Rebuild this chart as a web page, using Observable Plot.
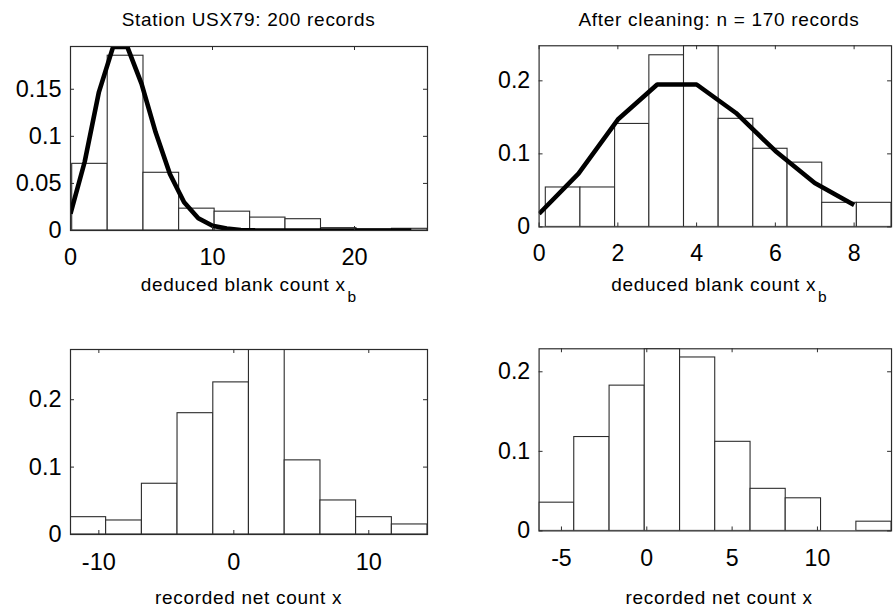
<!DOCTYPE html>
<html><head><meta charset="utf-8">
<script src="https://cdn.jsdelivr.net/npm/d3@7"></script>
<script src="https://cdn.jsdelivr.net/npm/@observablehq/plot@0.6"></script>
<style>
html,body{margin:0;padding:0;background:#fff;overflow:hidden;width:893px;height:608px;}
#root{position:relative;width:893px;height:608px;font-family:"Liberation Sans",Arial,sans-serif;color:#000;}
.cell{position:absolute;}
.lbl{position:absolute;text-align:center;font-size:19px;line-height:19px;letter-spacing:0.7px;white-space:nowrap;}
.lbl sub{font-size:15.5px;vertical-align:-11px;line-height:0;margin-left:2px;letter-spacing:0;}
</style></head><body><div id="root"></div>
<script>
// ---- Top-left: Station USX79, deduced blank count ----
const tlEdges = [0.12, 2.62, 5.14, 7.65, 10.15, 12.65, 15.14, 17.64, 20.14, 22.64, 25.14];
const tlDensity = [0.0708, 0.1856, 0.0613, 0.0232, 0.0200, 0.0137, 0.0120, 0.0025, 0.0010, 0.0018];
const tlCurveX = [0,1,2,3,4,5,6,7,8,9,10,11,12,13,14,15,16,17,18,19,20,21,22,23,24];
const tlCurveY = [0.018,0.073,0.147,0.195,0.195,0.156,0.104,0.060,0.030,0.013,0.005,0.002,0.0006,0.0002,0,0,0,0,0,0,0,0,0,0,0];
const tlXTicks = [0, 10, 20];
const tlYTicks = [0, 0.05, 0.1, 0.15];
const tlXDomain = [0, 25.14];
const tlYDomain = [0, 0.1954];

// ---- Top-right: after cleaning, deduced blank count ----
const trEdges = [0.17, 1.05, 1.93, 2.80, 3.68, 4.56, 5.44, 6.31, 7.19, 8.07, 8.95];
const trDensity = [0.054, 0.054, 0.141, 0.235, 0.248, 0.148, 0.107, 0.088, 0.033, 0.033];
const trCurveX = [0,1,2,3,4,5,6,7,8];
const trCurveY = [0.018,0.073,0.147,0.195,0.195,0.156,0.104,0.060,0.030];
const trXTicks = [0, 2, 4, 6, 8];
const trYTicks = [0, 0.1, 0.2];
const trXDomain = [0, 8.95];
const trYDomain = [0, 0.248];

// ---- Bottom-left: recorded net count (200 records) ----
const blEdges = [-12.1, -9.46, -6.81, -4.17, -1.52, 1.12, 3.77, 6.42, 9.06, 11.71, 14.35];
const blDensity = [0.0257, 0.0208, 0.0753, 0.180, 0.2257, 0.2745, 0.110, 0.0505, 0.0257, 0.0149];
const blXTicks = [-10, 0, 10];
const blYTicks = [0, 0.1, 0.2];
const blXDomain = [-12.1, 14.35];
const blYDomain = [0, 0.2745];

// ---- Bottom-right: recorded net count (170 records) ----
const brEdges = [-6.31, -4.25, -2.18, -0.12, 1.95, 4.01, 6.08, 8.14, 10.21, 12.28, 14.34];
const brDensity = [0.0355, 0.118, 0.1826, 0.2289, 0.218, 0.112, 0.0529, 0.041, 0, 0.0116];
const brXTicks = [-5, 0, 5, 10];
const brYTicks = [0, 0.1, 0.2];
const brXDomain = [-6.31, 14.34];
const brYDomain = [0, 0.2289];

const titles = ["Station USX79: 200 records", "After cleaning: n = 170 records"];
const xLabelTop = "deduced blank count x";
const xLabelTopSub = "b";
const xLabelBottom = "recorded net count x";

const INK = "#2b2b2b";
const root = document.getElementById("root");

function panel(o) {
  const bins = o.density.map((h, i) => ({lo: o.edges[i], hi: o.edges[i + 1], h}));
  const frameW = o.width - o.mL - o.mR;
  const frameH = o.height - o.mT - o.mB;
  const tick = 4;
  const marks = [
    Plot.rect(bins, {x1: "lo", x2: "hi", y1: 0, y2: "h", fill: "white", stroke: INK, strokeWidth: 1.1, clip: true}),
  ];
  if (o.cx) {
    const curve = o.cx.map((x, i) => ({x, y: o.cy[i]}));
    marks.push(Plot.line(curve, {x: "x", y: "y", stroke: "black", strokeWidth: 4.6, strokeLinejoin: "miter", strokeLinecap: "butt", clip: true}));
  }
  marks.push(
    Plot.tickX(o.xt, {x: d => d, stroke: INK, insetTop: frameH - tick}),
    Plot.tickX(o.xt, {x: d => d, stroke: INK, insetBottom: frameH - tick}),
    Plot.tickY(o.yt, {y: d => d, stroke: INK, insetLeft: frameW - tick}),
    Plot.tickY(o.yt, {y: d => d, stroke: INK, insetRight: frameW - tick}),
    Plot.axisX({ticks: o.xt, tickSize: 0, tickPadding: o.xPad, tickFormat: d => String(d), label: null}),
    Plot.axisY({ticks: o.yt, tickSize: 0, tickPadding: 9, tickFormat: d => String(d), label: null}),
    Plot.frame({stroke: INK, strokeWidth: 1.2})
  );
  const svg = Plot.plot({
    width: o.width, height: o.height,
    marginLeft: o.mL, marginRight: o.mR, marginTop: o.mT, marginBottom: o.mB,
    x: {domain: o.xDomain, axis: null},
    y: {domain: o.yDomain, axis: null},
    style: {fontFamily: "'Liberation Sans', Arial, sans-serif", fontSize: "23.5px", background: "transparent", color: "black", overflow: "visible"},
    marks
  });
  const div = document.createElement("div");
  div.className = "cell";
  div.style.left = o.left + "px";
  div.style.top = o.top + "px";
  div.appendChild(svg);
  root.appendChild(div);
}

function label(html, left, width, top) {
  const d = document.createElement("div");
  d.className = "lbl";
  d.style.left = left + "px";
  d.style.width = width + "px";
  d.style.top = top + "px";
  d.innerHTML = html;
  root.appendChild(d);
}

panel({left: 0, top: 0, width: 450, height: 304, mL: 70, mR: 23, mT: 46, mB: 74, xPad: 17.5,
  edges: tlEdges, density: tlDensity, cx: tlCurveX, cy: tlCurveY,
  xt: tlXTicks, yt: tlYTicks, xDomain: tlXDomain, yDomain: tlYDomain});
panel({left: 450, top: 0, width: 450, height: 304, mL: 90, mR: 2, mT: 46, mB: 74, xPad: 17.5,
  edges: trEdges, density: trDensity, cx: trCurveX, cy: trCurveY,
  xt: trXTicks, yt: trYTicks, xDomain: trXDomain, yDomain: trYDomain});
panel({left: 0, top: 304, width: 450, height: 304, mL: 70, mR: 23, mT: 45, mB: 74, xPad: 19,
  edges: blEdges, density: blDensity,
  xt: blXTicks, yt: blYTicks, xDomain: blXDomain, yDomain: blYDomain});
panel({left: 450, top: 304, width: 450, height: 304, mL: 90, mR: 2, mT: 45, mB: 74, xPad: 19,
  edges: brEdges, density: brDensity,
  xt: brXTicks, yt: brYTicks, xDomain: brXDomain, yDomain: brYDomain});

label(titles[0], 70, 357, 10);
label(titles[1], 540, 358, 10);
label(xLabelTop + "<sub>" + xLabelTopSub + "</sub>", 70, 357, 275);
label(xLabelTop + "<sub>" + xLabelTopSub + "</sub>", 540, 358, 275);
label(xLabelBottom, 70, 357, 588);
label(xLabelBottom, 540, 358, 588);
</script>
</body></html>
